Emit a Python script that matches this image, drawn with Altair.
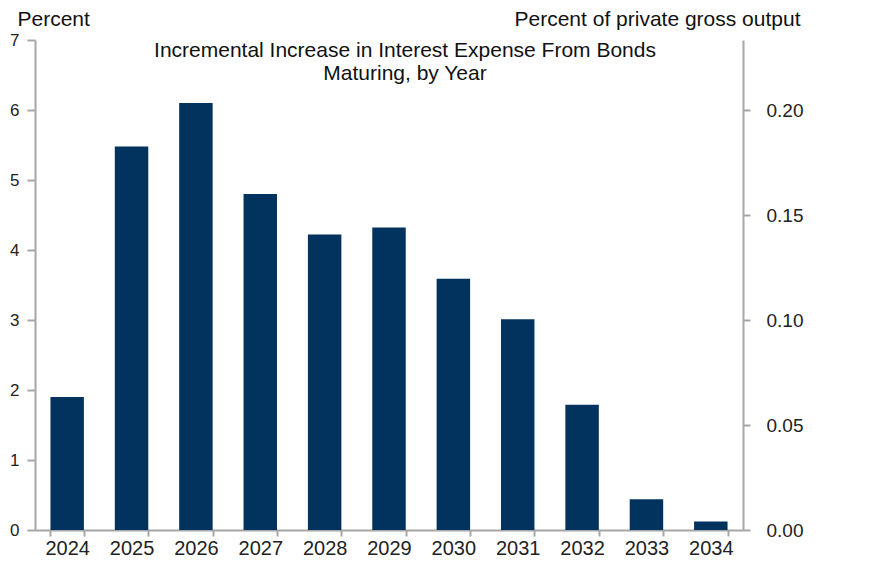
import altair as alt
import pandas as pd

years = ["2024", "2025", "2026", "2027", "2028", "2029", "2030", "2031", "2032", "2033", "2034"]
pct = [1.9, 5.48, 6.1, 4.8, 4.22, 4.32, 3.59, 3.01, 1.79, 0.44, 0.12]
left_ticks = [0, 1, 2, 3, 4, 5, 6, 7]
right_ticks = [0.00, 0.05, 0.10, 0.15, 0.20]
right_ratio = 30.0  # left-axis units per right-axis unit
title_lines = ["Incremental Increase in Interest Expense From Bonds", "Maturing, by Year"]

df = pd.DataFrame({"year": years, "pct": pct})

FONT = "Liberation Sans"
GRAY = "#a6a6a6"
NAVY = "#02335f"

xenc = alt.X("year:N", sort=years, title=None,
             scale=alt.Scale(paddingInner=0.48, paddingOuter=0.24),
             axis=alt.Axis(labelAngle=0, labelFontSize=20, labelFont=FONT, labelColor="#222222",
                           labelPadding=2, tickSize=6, tickColor=GRAY, tickWidth=2,
                           domainColor=GRAY, domainWidth=2, tickBand="extent"))

bars = alt.Chart(df).mark_bar(color=NAVY).encode(
    x=xenc,
    y=alt.Y("pct:Q", scale=alt.Scale(domain=[0, 7], nice=False, zero=True),
            axis=alt.Axis(values=left_ticks, format="d", grid=False, orient="left",
                          labelFontSize=17, labelFont=FONT, labelColor="#222222", labelPadding=8,
                          tickSize=8, tickColor=GRAY, tickWidth=2, domainColor=GRAY, domainWidth=2,
                          title="Percent", titleAngle=0, titleX=-18, titleY=-15, titleAlign="left",
                          titleBaseline="alphabetic", titleFont=FONT, titleFontSize=21,
                          titleFontWeight="normal", titleColor="#111111")),
)

right_vals = [v * right_ratio for v in right_ticks]
hidden = alt.Chart(df).mark_bar(opacity=0).encode(
    x=alt.X("year:N", sort=years),
    y=alt.Y("pct:Q", scale=alt.Scale(domain=[0, 7], nice=False, zero=True),
            axis=alt.Axis(values=right_vals, orient="right", grid=False,
                          labelExpr=f"format(datum.value / {right_ratio}, '.2f')",
                          labelFontSize=19, labelFont=FONT, labelColor="#222222", labelPadding=16,
                          tickSize=7, tickColor=GRAY, tickWidth=2, domainColor=GRAY, domainWidth=2,
                          title="Percent of private  gross output", titleAngle=0, titleX=57, titleY=-15,
                          titleAlign="right", titleBaseline="alphabetic", titleFont=FONT,
                          titleFontSize=21, titleFontWeight="normal", titleColor="#111111")),
)

t1 = alt.Chart(pd.DataFrame({"t": [title_lines[0]]})).mark_text(
    font=FONT, fontSize=21, color="#111111", align="center", baseline="alphabetic"
).encode(text="t:N", x=alt.value(370), y=alt.value(17))
t2 = alt.Chart(pd.DataFrame({"t": [title_lines[1]]})).mark_text(
    font=FONT, fontSize=21, color="#111111", align="center", baseline="alphabetic"
).encode(text="t:N", x=alt.value(370), y=alt.value(40))

chart = alt.layer(bars, hidden, t1, t2).resolve_scale(y="independent").properties(
    width=708, height=490,
    autosize=alt.AutoSizeParams(type="none"),
    padding={"left": 27, "top": 32, "right": 127, "bottom": 28},
    background="white",
).configure_view(stroke=None)

chart.save("out.html", embed_options={"renderer": "svg", "actions": False})
